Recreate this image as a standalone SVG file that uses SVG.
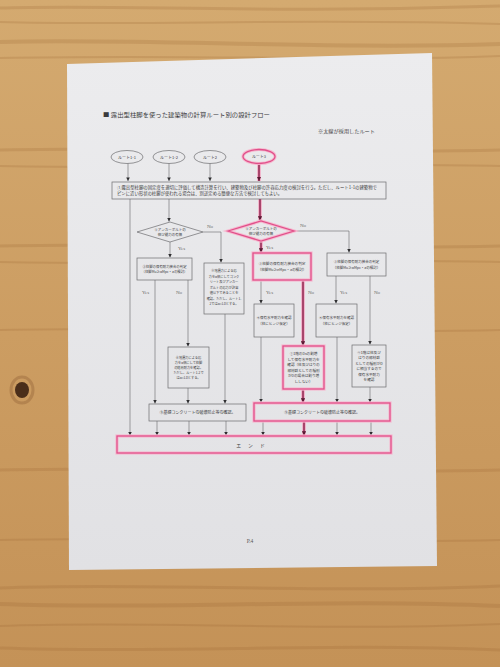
<svg xmlns="http://www.w3.org/2000/svg" width="500" height="667" viewBox="0 0 500 667">
<defs>
<style>
.jp{font-family:"Noto Sans CJK JP","Noto Sans",sans-serif;fill:#3a3a3c;}
.yn{font-family:"Liberation Serif",serif;fill:#6a6a6a;font-size:5px;}
.box{fill:none;stroke:#6c6c6e;stroke-width:0.7;}
.pk{fill:none;stroke:#e0508a;stroke-width:1.3;}
.pkh{fill:none;stroke:#f6b8cf;stroke-width:3.2;}
.ln{fill:none;stroke:#66666a;stroke-width:0.6;marker-end:url(#ah);}
.th{fill:none;stroke:#f3a9c5;stroke-width:3.6;}
.tc{fill:none;stroke:#952c55;stroke-width:1.6;marker-end:url(#ahp);}
.grain{fill:none;stroke:#9a6532;stroke-opacity:0.22;}
</style>
<marker id="ah" viewBox="0 0 10 10" refX="10" refY="5" markerWidth="3.6" markerHeight="3.6" markerUnits="userSpaceOnUse" orient="auto"><path d="M0,0 L10,5 L0,10 z" fill="#2e2e30"/></marker>
<marker id="ahp" viewBox="0 0 10 10" refX="10" refY="5" markerWidth="4.2" markerHeight="4.4" markerUnits="userSpaceOnUse" orient="auto"><path d="M0,0 L10,5 L0,10 z" fill="#5a1a33"/></marker>
<linearGradient id="wood" x1="0" y1="0" x2="0" y2="1">
<stop offset="0" stop-color="#d4aa70"/>
<stop offset="0.5" stop-color="#cc9d62"/>
<stop offset="1" stop-color="#c49257"/>
</linearGradient>
<linearGradient id="paperg" x1="0" y1="0" x2="0" y2="1">
<stop offset="0" stop-color="#ececee"/>
<stop offset="1" stop-color="#e1e1e4"/>
</linearGradient>
</defs>

<g id="table">
<rect x="0" y="0" width="500" height="667" fill="url(#wood)"/>
<path class="grain" stroke-width="3" d="M0,8 C120,4 260,14 500,6"/>
<path class="grain" stroke-width="2" d="M0,22 C150,26 300,18 500,24"/>
<path class="grain" stroke-width="4" d="M0,42 C140,38 330,50 500,44"/>
<path class="grain" stroke-width="2" d="M0,58 C200,54 350,62 500,56"/>
<path class="grain" stroke-width="3" d="M0,150 C200,146 350,154 500,150"/>
<path class="grain" stroke-width="2" d="M0,166 C200,170 350,162 500,166"/>
<path class="grain" stroke-width="3" d="M0,246 C200,242 350,250 500,246"/>
<path class="grain" stroke-width="2" d="M0,262 C200,266 350,258 500,262"/>
<path class="grain" stroke-width="2" d="M0,330 C200,326 350,334 500,330"/>
<path class="grain" stroke-width="3" d="M0,470 C200,466 350,474 500,470"/>
<path class="grain" stroke-width="2" d="M0,540 C200,536 350,544 500,540"/>
<path class="grain" stroke-width="3" d="M0,588 C140,582 320,594 500,586"/>
<path class="grain" stroke-width="4" d="M0,604 C160,610 330,598 500,606"/>
<path class="grain" stroke-width="2" d="M0,626 C150,620 300,632 500,624"/>
<path class="grain" stroke-width="3" d="M0,648 C180,654 320,642 500,650"/>
<ellipse cx="22" cy="390" rx="7" ry="8" fill="#4a2e1a"/>
<ellipse cx="22" cy="390" rx="11" ry="13" fill="none" stroke="#8a5a30" stroke-opacity="0.35" stroke-width="3"/>
</g>

<polygon id="paper" points="67,64 432,53 437,566 69,570" fill="url(#paperg)"/>

<g id="header">
<text class="jp" x="103" y="117" font-size="6" textLength="167" lengthAdjust="spacingAndGlyphs">■ 露出型柱脚を使った建築物の計算ルート別の設計フロー</text>
<text class="jp" x="318" y="133" font-size="4.6" textLength="57" lengthAdjust="spacingAndGlyphs">※太線が採用したルート</text>
</g>

<g id="connectors">
<path class="ln" d="M128,163.5 V181"/>
<path class="ln" d="M169,163.5 V181"/>
<path class="ln" d="M210,163.5 V181"/>
<path class="ln" d="M130,199 V435.5"/>
<path class="ln" d="M169,199 V221.5"/>
<path class="ln" d="M203,232 H221 V262.5"/>
<path class="ln" d="M170,242 V257.5"/>
<path class="ln" d="M155,280 V403.5"/>
<path class="ln" d="M188,280 V346.5"/>
<path class="ln" d="M225,314 V403.5"/>
<path class="ln" d="M188,388 V403.5"/>
<path class="ln" d="M157,421 V435.5"/>
<path class="ln" d="M189,421 V435.5"/>
<path class="ln" d="M226,421 V435.5"/>
<path class="ln" d="M294,231 H349 V252.5"/>
<path class="ln" d="M261,280 V303.5"/>
<path class="ln" d="M261,337 V402.5"/>
<path class="ln" d="M336,276 V303.5"/>
<path class="ln" d="M370,276 V344.5"/>
<path class="ln" d="M337,337 V402.5"/>
<path class="ln" d="M370,387 V402.5"/>
<path class="ln" d="M263,421 V435.5"/>
<path class="ln" d="M337,421 V435.5"/>
<path class="ln" d="M371,421 V435.5"/>
<path class="th" d="M259,164 V181"/>
<path class="th" d="M260,199 V220.5"/>
<path class="th" d="M261,241 V252.5"/>
<path class="th" d="M303,280 V345.5"/>
<path class="th" d="M303,389 V402.5"/>
<path class="th" d="M304,421 V435.5"/>
<path class="tc" d="M259,164 V181"/>
<path class="tc" d="M260,199 V220.5"/>
<path class="tc" d="M261,241 V252.5"/>
<path class="tc" d="M303,280 V345.5"/>
<path class="tc" d="M303,389 V402.5"/>
<path class="tc" d="M304,421 V435.5"/>
<text class="yn" x="207" y="228">No</text>
<text class="yn" x="178" y="250">Yes</text>
<text class="yn" x="142" y="294">Yes</text>
<text class="yn" x="176" y="294">No</text>
<text class="yn" x="300" y="227">No</text>
<text class="yn" x="266" y="249">Yes</text>
<text class="yn" x="266" y="294">Yes</text>
<text class="yn" x="308" y="294">No</text>
<text class="yn" x="340" y="294">Yes</text>
<text class="yn" x="374" y="294">No</text>
</g>

<g id="route11">
<ellipse class="box" cx="127" cy="157" rx="16" ry="6.5"/>
<text class="jp" x="127" y="158.5" font-size="4" text-anchor="middle">ルート1-1</text>
</g>
<g id="route12">
<ellipse class="box" cx="169" cy="157" rx="16" ry="6.5"/>
<text class="jp" x="169" y="158.5" font-size="4" text-anchor="middle">ルート1-2</text>
</g>
<g id="route2">
<ellipse class="box" cx="210" cy="157" rx="16" ry="6.5"/>
<text class="jp" x="210" y="158.5" font-size="4" text-anchor="middle">ルート2</text>
</g>
<g id="route3">
<ellipse class="pkh" cx="259" cy="156.5" rx="16" ry="7"/>
<ellipse class="pk" cx="259" cy="156.5" rx="16" ry="7"/>
<text class="jp" x="259" y="158" font-size="4" text-anchor="middle">ルート3</text>
</g>

<g id="n1">
<rect class="box" x="112" y="182" width="274" height="17"/>
<text class="jp" x="117" y="188.5" font-size="4.2" textLength="260" lengthAdjust="spacingAndGlyphs">①露出型柱脚の固定度を適切に評価して構造計算を行い、建築物及び柱脚の許容応力度の検討を行う。ただし、ルート1-1の建築物で</text>
<text class="jp" x="117" y="195" font-size="4.2" textLength="165" lengthAdjust="spacingAndGlyphs">ピンに近い形状の柱脚が使われる場合は、別途定める簡便な方法で検討してもよい。</text>
</g>

<g id="n2a">
<polygon class="box" points="137,232 170,222 203,232 170,242"/>
<text class="jp" x="170" y="231" font-size="3.5" text-anchor="middle">②アンカーボルトの</text>
<text class="jp" x="170" y="236" font-size="3.5" text-anchor="middle">伸び能力の有無</text>
</g>

<g id="n2b">
<polygon class="pkh" points="228,231 261,221 294,231 261,241"/>
<polygon class="pk" points="228,231 261,221 294,231 261,241"/>
<text class="jp" x="261" y="230" font-size="3.5" text-anchor="middle">②アンカーボルトの</text>
<text class="jp" x="261" y="235" font-size="3.5" text-anchor="middle">伸び能力の有無</text>
</g>

<g id="n3a">
<rect class="box" x="137" y="258" width="55" height="22"/>
<text class="jp" x="164.5" y="267.5" font-size="3.4" text-anchor="middle">③柱脚の保有耐力接合の判定</text>
<text class="jp" x="164.5" y="273" font-size="3.4" text-anchor="middle">（柱脚Mu≥αMpc・aの検討）</text>
</g>

<g id="n3b">
<rect class="pkh" x="253" y="253" width="58" height="27"/>
<rect class="pk" x="253" y="253" width="58" height="27"/>
<text class="jp" x="282" y="265" font-size="3.6" text-anchor="middle">③柱脚の保有耐力接合の判定</text>
<text class="jp" x="282" y="270.5" font-size="3.6" text-anchor="middle">（柱脚Mu≥αMpc・aの検討）</text>
</g>

<g id="n3c">
<rect class="box" x="327" y="253" width="59" height="23"/>
<text class="jp" x="356.5" y="263" font-size="3.5" text-anchor="middle">③柱脚の保有耐力接合の判定</text>
<text class="jp" x="356.5" y="268.5" font-size="3.5" text-anchor="middle">（柱脚Mu≥αMpc・aの検討）</text>
</g>

<g id="n5">
<rect class="box" x="204" y="263" width="40" height="51"/>
<g class="jp" font-size="3.2" text-anchor="middle">
<text x="224" y="272">⑤地震力による応</text>
<text x="224" y="277.5">力をα倍にしてコンク</text>
<text x="224" y="283">リート及びアンカー</text>
<text x="224" y="288.5">ボルトの応力が許容</text>
<text x="224" y="294">値以下であることを</text>
<text x="224" y="299.5">確認。ただし、ルート1-</text>
<text x="224" y="305">2ではα=1.0とする。</text>
</g>
</g>

<g id="n6">
<rect class="box" x="168" y="347" width="41" height="41"/>
<g class="jp" font-size="3.2" text-anchor="middle">
<text x="188.5" y="359">⑥地震力による応</text>
<text x="188.5" y="364">力をα倍にして柱脚</text>
<text x="188.5" y="369">の終局耐力を確認。</text>
<text x="188.5" y="374">ただし、ルート1-2で</text>
<text x="188.5" y="379">はα=1.0とする。</text>
</g>
</g>

<g id="n4a">
<rect class="box" x="254" y="304" width="40" height="33"/>
<text class="jp" x="274" y="319" font-size="3.5" text-anchor="middle">④保有水平耐力を確認</text>
<text class="jp" x="274" y="324.5" font-size="3.5" text-anchor="middle">（柱にヒンジ仮定）</text>
</g>

<g id="n4b">
<rect class="box" x="316" y="304" width="41" height="33"/>
<text class="jp" x="336.5" y="319" font-size="3.5" text-anchor="middle">④保有水平耐力を確認</text>
<text class="jp" x="336.5" y="324.5" font-size="3.5" text-anchor="middle">（柱にヒンジ仮定）</text>
</g>

<g id="n7">
<rect class="pkh" x="283" y="346" width="41" height="43"/>
<rect class="pk" x="283" y="346" width="41" height="43"/>
<g class="jp" font-size="3.6" text-anchor="middle">
<text x="303.5" y="355">⑦1階のDsの割増</text>
<text x="303.5" y="360.5">して保有水平耐力を</text>
<text x="303.5" y="366">確認（柱及びはりの</text>
<text x="303.5" y="371.5">部材群としての種別</text>
<text x="303.5" y="377">がDの場合は割り増</text>
<text x="303.5" y="382.5">ししない）</text>
</g>
</g>

<g id="n8">
<rect class="box" x="352" y="345" width="34" height="42"/>
<g class="jp" font-size="3.6" text-anchor="middle">
<text x="369" y="353.5">⑧1階は柱及び</text>
<text x="369" y="359">はりの部材群</text>
<text x="369" y="364.5">としての種別がD</text>
<text x="369" y="370">に相当するので</text>
<text x="369" y="375.5">保有水平耐力</text>
<text x="369" y="381">を確認</text>
</g>
</g>

<g id="n9a">
<rect class="box" x="149" y="404" width="97" height="17"/>
<text class="jp" x="197.5" y="414" font-size="4" text-anchor="middle">⑨基礎コンクリートの破壊防止等の確認。</text>
</g>

<g id="n9b">
<rect class="pkh" x="254" y="403" width="136" height="18"/>
<rect class="pk" x="254" y="403" width="136" height="18"/>
<text class="jp" x="322" y="413.5" font-size="4" text-anchor="middle">⑨基礎コンクリートの破壊防止等の確認。</text>
</g>

<g id="end">
<rect class="pkh" x="117" y="436" width="274" height="17"/>
<rect class="pk" x="117" y="436" width="274" height="17"/>
<text class="jp" x="254" y="446.5" font-size="4.8" text-anchor="middle" letter-spacing="7">エンド</text>
</g>

<text x="250" y="543" font-family="Liberation Serif, serif" font-size="5.5" fill="#555" text-anchor="middle">P.4</text>
</svg>
